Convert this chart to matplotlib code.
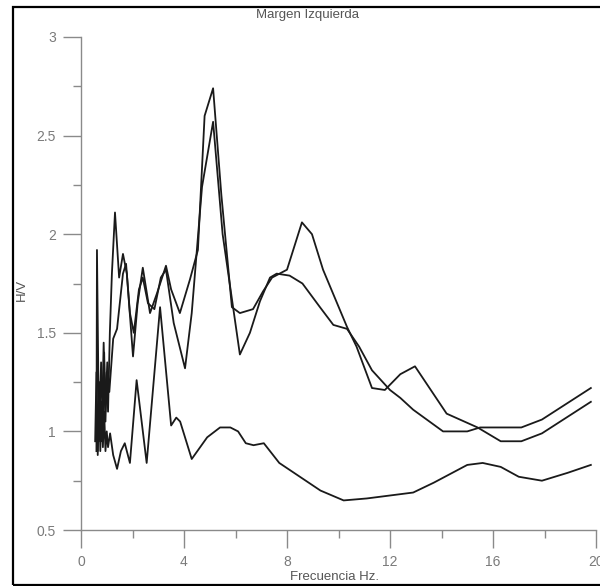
import matplotlib
matplotlib.use("Agg")
import matplotlib.pyplot as plt
from matplotlib.patches import Rectangle

## data (frequency Hz, H/V ratio)
freq_a = [0.6, 0.62, 0.7, 0.78, 0.85, 0.9, 0.95, 1.0, 1.05, 1.12, 1.2, 1.32, 1.48, 1.63, 1.78,
          2.02, 2.2, 2.4, 2.68, 2.95, 3.3, 3.5, 3.84, 4.23, 4.54, 4.8, 5.13, 5.45, 5.86, 6.17,
          6.68, 7.07, 7.42, 8.0, 8.58, 8.97, 9.4, 10.33, 10.7, 11.3, 11.8, 12.4, 12.97, 14.2,
          15.4, 16.3, 17.1, 17.9, 19.8]
hv_a = [0.9, 1.92, 0.95, 1.35, 1.0, 1.4, 1.05, 1.3, 1.1, 1.5, 1.8, 2.11, 1.78, 1.9, 1.8,
        1.38, 1.65, 1.83, 1.6, 1.7, 1.84, 1.72, 1.60, 1.77, 1.92, 2.6, 2.74, 2.2, 1.63, 1.60,
        1.62, 1.71, 1.78, 1.82, 2.06, 2.0, 1.82, 1.53, 1.43, 1.22, 1.21, 1.29, 1.33, 1.09,
        1.02, 0.95, 0.95, 0.99, 1.15]

freq_b = [0.6, 0.65, 0.72, 0.8, 0.88, 0.95, 1.02, 1.1, 1.25, 1.4, 1.63, 1.75, 1.9, 2.05, 2.25,
          2.4, 2.6, 2.85, 3.1, 3.3, 3.6, 4.04, 4.3, 4.7, 5.13, 5.5, 6.17, 6.56, 6.95, 7.34,
          7.6, 8.1, 8.6, 9.28, 9.8, 10.33, 10.8, 11.3, 12.0, 12.4, 12.9, 14.06, 15.0, 15.5,
          17.1, 17.9, 19.8]
hv_b = [1.05, 0.9, 1.25, 0.95, 1.45, 1.1, 1.35, 1.2, 1.47, 1.52, 1.8, 1.85, 1.6, 1.5, 1.72,
        1.78, 1.65, 1.62, 1.78, 1.82, 1.55, 1.32, 1.6, 2.24, 2.57, 2.0, 1.39, 1.50, 1.66, 1.78,
        1.80, 1.79, 1.75, 1.63, 1.54, 1.52, 1.43, 1.31, 1.21, 1.17, 1.11, 1.0, 1.0, 1.02,
        1.02, 1.06, 1.22]

freq_c = [0.55, 0.6, 0.65, 0.7, 0.75, 0.8, 0.85, 0.9, 0.95, 1.0, 1.05, 1.13, 1.25, 1.4, 1.55,
          1.7, 1.9, 2.16, 2.55, 3.07, 3.5, 3.7, 3.85, 4.3, 4.9, 5.4, 5.8, 6.1, 6.4, 6.7, 7.1,
          7.7, 8.5, 9.3, 10.2, 11.1, 12.0, 12.9, 13.7, 15.0, 15.6, 16.3, 17.0, 17.9, 18.9, 19.8]
hv_c = [0.95, 1.3, 0.88, 1.2, 0.9, 1.15, 0.92, 1.1, 0.9, 1.0, 0.92, 0.99, 0.88, 0.81, 0.9,
        0.94, 0.84, 1.26, 0.84, 1.63, 1.03, 1.07, 1.05, 0.86, 0.97, 1.02, 1.02, 1.0, 0.94,
        0.93, 0.94, 0.84, 0.77, 0.70, 0.65, 0.66, 0.675, 0.69, 0.74, 0.83, 0.84, 0.82, 0.77,
        0.75, 0.79, 0.83]

x_major = [0, 4, 8, 12, 16, 20]
x_minor = [2, 6, 10, 14, 18]
y_major = [0.5, 1, 1.5, 2, 2.5, 3]
y_labels = ['0.5', '1', '1.5', '2', '2.5', '3']
y_minor = [0.75, 1.25, 1.75, 2.25, 2.75]

plt.rcParams['font.family'] = ['Liberation Sans', 'DejaVu Sans']

fig = plt.figure(figsize=(6, 5.86), dpi=100)
ax = fig.add_axes([81/600, 1 - 530/586, 515/600, 493/586])

for fx, hv in [(freq_a, hv_a), (freq_b, hv_b), (freq_c, hv_c)]:
    ax.plot(fx, hv, color='#1a1a1a', lw=1.3, clip_on=False)

ax.set_xlim(0, 20)
ax.set_ylim(0.5, 3)
ax.set_xticks(x_major)
ax.set_xticklabels([str(v) for v in x_major])
ax.set_xticks(x_minor, minor=True)
ax.set_yticks(y_major)
ax.set_yticklabels(y_labels)
ax.set_yticks(y_minor, minor=True)

grey = '#8a8a8a'
for side in ['top', 'right']:
    ax.spines[side].set_visible(False)
for side in ['left', 'bottom']:
    ax.spines[side].set_color(grey)
    ax.spines[side].set_linewidth(1.0)
ax.tick_params(which='major', length=13, width=1.0, color=grey, labelcolor='#7a7a7a',
               labelsize=10, pad=5)
ax.tick_params(which='minor', length=6, width=1.0, color=grey)

fig.text(308/600, 1 - 15/586, 'Margen Izquierda', ha='center', va='center',
         fontsize=9.5, color='#555555')
fig.text(22/600, 1 - 290/586, 'H/V', ha='center', va='center', rotation=90,
         fontsize=9.5, color='#555555')
fig.text(334/600, 1 - 577/586, 'Frecuencia Hz.', ha='center', va='center',
         fontsize=9.5, color='#555555')

# outer frame
fig.patches.append(Rectangle((13/600, 1/586), 1.0, 1 - 8/586, transform=fig.transFigure,
                             fill=False, edgecolor='black', lw=1.6, clip_on=False))

fig.savefig('out.png', dpi=100)
